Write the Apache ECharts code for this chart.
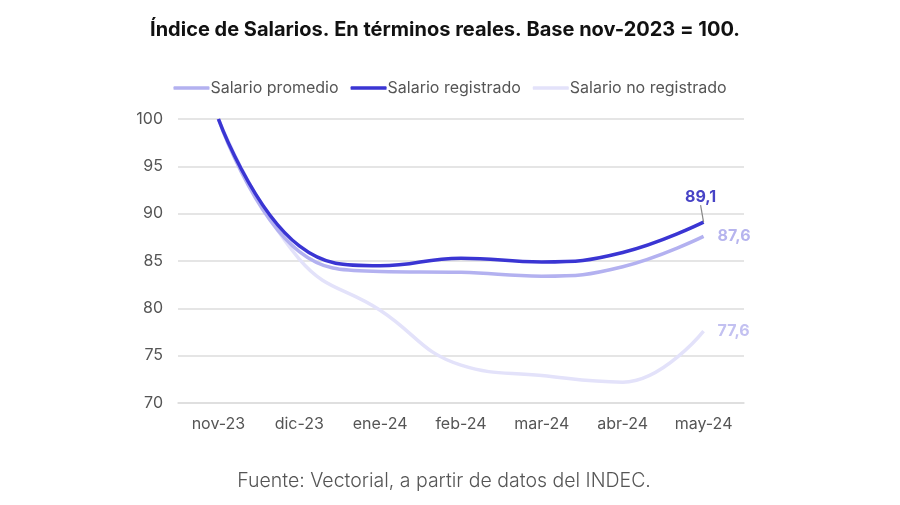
<!DOCTYPE html>
<html>
<head>
<meta charset="utf-8">
<script src="https://cdn.jsdelivr.net/npm/echarts@6/dist/echarts.min.js"></script>
<style>
html,body{margin:0;padding:0;background:#fff;}
#c{width:900px;height:505px;}
</style>
</head>
<body>
<div id="c"></div>
<script>
const categories = ['nov-23','dic-23','ene-24','feb-24','mar-24','abr-24','may-24'];
const promedio = [100, 86.0, 83.9, 83.8, 83.4, 84.4, 87.6];
const registrado = [100, 86.6, 84.5, 85.3, 84.9, 85.9, 89.1];
const noRegistrado = [100, 85.2, 79.8, 74.0, 72.9, 72.2, 77.6];
const yTicks = [70, 75, 80, 85, 90, 95, 100];

const FONT = 'Inter, "Noto Sans", sans-serif';
const C_PROM = '#b3b1f0';
const C_REG = '#3a35d3';
const C_NOREG = '#e3e2fa';

function lastLabel(arr, color, opts) {
  return arr.map((v, i) => {
    if (i !== arr.length - 1) return v;
    return Object.assign({ value: v, label: Object.assign({
      show: true, color: color, fontFamily: FONT, fontWeight: 'bold', fontSize: 16,
      formatter: p => String(p.value).replace('.', ',')
    }, opts.label || {}) }, opts.extra || {});
  });
}

const baseSeries = {
  type: 'line', smooth: 0.45, symbol: 'circle', symbolSize: 0.01, showSymbol: true,
  emphasis: {disabled: true}
};

const chart = echarts.init(document.getElementById('c'), null, {renderer: 'canvas'});
chart.setOption({
  backgroundColor: '#fff',
  animation: false,
  title: [{
    text: 'Índice de Salarios. En términos reales. Base nov-2023 = 100.',
    left: 440, top: 15, textAlign: 'center',
    textStyle: {fontFamily: FONT, fontSize: 20, fontWeight: 'bold', color: '#111'}
  }, {
    text: 'Fuente: Vectorial, a partir de datos del INDEC.',
    left: 439, top: 466, textAlign: 'center',
    textStyle: {fontFamily: FONT, fontSize: 19.5, fontWeight: 300, color: '#555'}
  }],
  legend: {
    data: ['Salario promedio', 'Salario registrado', 'Salario no registrado'],
    left: 'center', top: 75,
    icon: 'roundRect', itemWidth: 36, itemHeight: 3.5, itemGap: 12,
    textStyle: {fontFamily: FONT, fontSize: 16, color: '#555', padding: [0,0,0,-4]}
  },
  grid: {left: 178, right: 156, top: 119, bottom: 102, containLabel: false},
  xAxis: {
    type: 'category', data: categories, boundaryGap: true,
    axisLine: {show: true, lineStyle: {color: '#ddd', width: 1.5}},
    axisTick: {show: false},
    axisLabel: {fontFamily: FONT, fontSize: 16, color: '#555', margin: 13}
  },
  yAxis: {
    type: 'value', min: 70, max: 100, interval: 5,
    axisLine: {show: false}, axisTick: {show: false},
    axisLabel: {fontFamily: FONT, fontSize: 16, color: '#555', margin: 15,
      formatter: v => yTicks.includes(v) ? String(v) : ''},
    splitLine: {lineStyle: {color: '#dcdcdc', width: 1.5}}
  },
  series: [
    Object.assign({}, baseSeries, {
      name: 'Salario no registrado',
      lineStyle: {color: C_NOREG, width: 3.5}, itemStyle: {color: C_NOREG},
      data: lastLabel(noRegistrado, '#c3c1f1', {label: {position: 'right', distance: 14}}),
      z: 1
    }),
    Object.assign({}, baseSeries, {
      name: 'Salario promedio',
      lineStyle: {color: C_PROM, width: 3.5}, itemStyle: {color: C_PROM},
      data: lastLabel(promedio, '#b6b4ee', {label: {position: 'right', distance: 14}}),
      z: 2
    }),
    Object.assign({}, baseSeries, {
      name: 'Salario registrado',
      lineStyle: {color: C_REG, width: 3.5}, itemStyle: {color: C_REG},
      data: lastLabel(registrado, '#4743c6', {
        label: {position: 'top', distance: 4},
        extra: {labelLine: {show: true, length2: 0, lineStyle: {color: '#888', width: 1.2}}}
      }),
      labelLayout: function (p) {
        if (p.dataIndex !== registrado.length - 1) return {};
        return {dy: -13, dx: -3};
      },
      labelLine: {show: true, lineStyle: {color: '#888', width: 1.2}},
      z: 3
    })
  ]
});
</script>
</body>
</html>
